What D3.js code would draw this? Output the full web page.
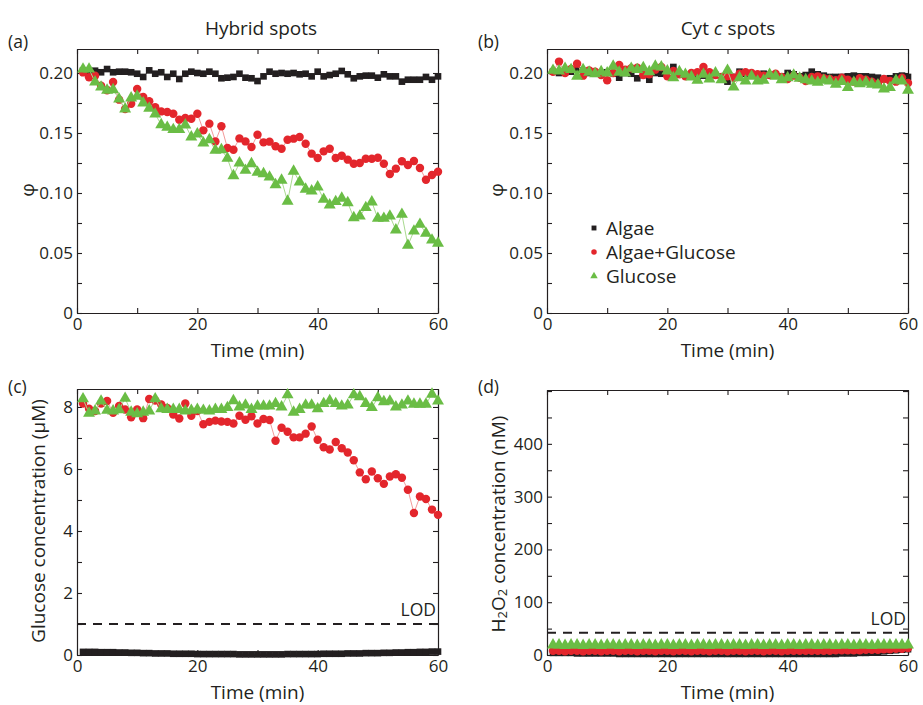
<!DOCTYPE html>
<html>
<head>
<meta charset="utf-8">
<script src="https://cdn.jsdelivr.net/npm/d3@7"></script>
<style>
  body { margin: 0; background: #fff; }
  svg text { font-family: "Open Sans", "Noto Sans", sans-serif; fill: #231f20; }
</style>
</head>
<body>
<svg width="923" height="705"></svg>
<script>
// sampling times (min)
const times = [1,2,3,4,5,6,7,8,9,10,11,12,13,14,15,16,17,18,19,20,
  21,22,23,24,25,26,27,28,29,30,31,32,33,34,35,36,37,38,39,40,
  41,42,43,44,45,46,47,48,49,50,51,52,53,54,55,56,57,58,59,60];

// (a) hybrid spots, phi
const phiHybridAlgae = [0.2019,0.2006,0.2019,0.2006,0.2033,0.2006,0.2011,0.2011,0.2006,0.1994,
  0.1967,0.2022,0.1994,0.2006,0.1967,0.1994,0.1950,0.1994,0.2011,0.2000,
  0.1994,0.2011,0.1994,0.1956,0.1961,0.1967,0.1994,0.1961,0.1956,0.1933,
  0.1972,0.2011,0.1994,0.2000,0.1994,0.2000,0.1989,0.1994,0.1972,0.2011,
  0.1972,0.1983,0.1994,0.2017,0.1989,0.1956,0.1972,0.1978,0.1978,0.1961,
  0.1989,0.1972,0.1972,0.1928,0.1944,0.1944,0.1944,0.1967,0.1944,0.1972];
const phiHybridMix = [0.2005,0.1964,0.1978,0.1894,0.1856,0.1925,0.1778,0.1700,0.1744,0.1867,
  0.1800,0.1764,0.1714,0.1680,0.1675,0.1661,0.1611,0.1625,0.1619,0.1661,
  0.1522,0.1578,0.1430,0.1556,0.1375,0.1361,0.1455,0.1430,0.1383,0.1486,
  0.1422,0.1428,0.1389,0.1369,0.1444,0.1453,0.1467,0.1411,0.1328,0.1292,
  0.1347,0.1369,0.1292,0.1311,0.1278,0.1244,0.1250,0.1286,0.1286,0.1294,
  0.1244,0.1158,0.1203,0.1264,0.1233,0.1267,0.1208,0.1111,0.1150,0.1178];
const phiHybridGlucose = [0.2033,0.2033,0.1925,0.1883,0.1856,0.1861,0.1783,0.1700,0.1792,0.1806,
  0.1750,0.1706,0.1658,0.1569,0.1547,0.1528,0.1528,0.1567,0.1467,0.1492,
  0.1417,0.1444,0.1356,0.1361,0.1289,0.1144,0.1250,0.1189,0.1244,0.1172,
  0.1161,0.1133,0.1069,0.1106,0.0931,0.1181,0.1092,0.1031,0.1017,0.1050,
  0.0947,0.0900,0.0928,0.0956,0.0919,0.0794,0.0808,0.0878,0.0925,0.0789,
  0.0789,0.0808,0.0692,0.0822,0.0564,0.0683,0.0739,0.0664,0.0608,0.0581];

// (b) cyt c spots, phi
const phiCytAlgae = [0.2011,0.2000,0.2006,0.2011,0.2022,0.2017,0.2000,0.1994,0.2000,0.2006,
  0.1994,0.1961,0.2000,0.1994,0.1956,0.1983,0.1944,0.2000,0.1994,0.2006,
  0.2050,0.1994,0.1983,0.1978,0.1961,0.1978,0.1994,0.1983,0.1972,0.1928,
  0.1967,0.2011,0.1994,0.1989,0.1983,0.1994,0.1983,0.1983,0.1972,0.2000,
  0.1989,0.1972,0.1983,0.2011,0.1989,0.1978,0.1967,0.1967,0.1967,0.1972,
  0.1978,0.1972,0.1972,0.1967,0.1961,0.1950,0.1956,0.1972,0.1978,0.1967];
const phiCytMix = [0.2011,0.2095,0.2000,0.2033,0.2078,0.1978,0.2022,0.2011,0.1983,0.1939,
  0.2000,0.2067,0.2028,0.2039,0.2044,0.1983,0.1989,0.2028,0.2050,0.1972,
  0.2017,0.1989,0.1972,0.2000,0.2006,0.2050,0.2006,0.1983,0.1967,0.1972,
  0.1961,0.1994,0.2006,0.2000,0.1989,0.1978,0.1983,0.1994,0.1967,0.1950,
  0.1978,0.1961,0.1933,0.1967,0.1972,0.1956,0.1950,0.1939,0.1961,0.1944,
  0.1928,0.1956,0.1944,0.1928,0.1911,0.1950,0.1933,0.1928,0.1961,0.1917];
const phiCytGlucose = [0.2022,0.2017,0.2039,0.2028,0.1972,0.2028,0.2006,0.1994,0.2011,0.2000,
  0.2056,0.2006,0.2000,0.2039,0.2028,0.2044,0.2011,0.2056,0.2050,0.2017,
  0.1961,0.2011,0.1989,0.1967,0.1939,0.1989,0.1950,0.2000,0.1944,0.2022,
  0.1883,0.1961,0.1933,0.1972,0.1933,0.1939,0.1989,0.1972,0.1944,0.1961,
  0.1983,0.1956,0.1944,0.1933,0.1922,0.1939,0.1933,0.1906,0.1928,0.1878,
  0.1922,0.1911,0.1922,0.1906,0.1900,0.1867,0.1878,0.1939,0.1933,0.1856];

// (c) glucose concentration (uM)
const glcAlgae = [0.10,0.10,0.10,0.09,0.09,0.09,0.08,0.08,0.07,0.07,
  0.06,0.06,0.05,0.05,0.05,0.04,0.04,0.04,0.04,0.03,
  0.03,0.03,0.03,0.03,0.03,0.03,0.02,0.02,0.02,0.02,
  0.02,0.02,0.02,0.02,0.03,0.03,0.03,0.03,0.03,0.03,
  0.04,0.04,0.04,0.04,0.05,0.05,0.05,0.06,0.06,0.06,
  0.07,0.07,0.08,0.08,0.09,0.09,0.10,0.10,0.11,0.11];
const glcMix = [8.11,7.94,7.87,8.11,8.19,7.81,8.03,7.92,7.67,7.92,
  7.64,8.26,8.21,8.08,7.97,7.76,7.63,8.11,7.72,7.87,
  7.44,7.52,7.56,7.53,7.52,7.47,7.72,7.59,7.70,7.47,
  7.61,7.58,6.91,7.33,7.20,7.02,7.02,7.14,7.37,6.94,
  6.70,6.63,6.87,6.67,6.53,6.28,5.89,5.67,5.92,5.70,
  5.52,5.76,5.83,5.72,5.33,4.58,5.11,5.03,4.69,4.52];
const glcGlucose = [8.26,7.80,7.87,8.19,7.89,7.87,7.91,8.28,7.83,7.78,
  7.83,7.87,8.26,7.94,7.92,7.92,7.92,7.87,7.89,7.92,
  7.89,7.87,7.92,7.92,7.98,8.20,8.00,8.06,7.92,8.03,
  8.03,8.03,8.11,8.00,8.39,7.83,7.92,8.06,8.06,7.94,
  8.11,8.20,8.11,8.03,8.06,8.39,8.33,8.11,7.98,8.30,
  8.17,8.19,8.00,8.06,8.19,8.09,8.09,8.09,8.41,8.19];

// (d) H2O2 concentration (nM)
const h2o2Algae = [4,4,4,4,3,3,3,3,3,3,
  3,2,2,2,2,2,2,2,2,2,
  2,2,2,2,2,2,2,2,2,2,
  2,2,2,2,2,2,2,2,2,2,
  2,2,2,2,2,2,2,2,3,3,
  3,4,4,5,6,7,8,9,10,11];
const h2o2Mix = [8,8,7,8,8,7,8,8,7,8,
  8,7,8,8,7,8,8,7,8,8,
  7,8,8,7,8,8,7,8,8,7,
  8,8,7,8,8,7,8,8,7,8,
  8,8,8,8,8,8,8,9,9,9,
  9,9,10,10,10,11,11,12,12,13];
const h2o2Glucose = [19,19,18,19,19,18,19,19,18,19,
  19,18,19,19,18,19,19,18,19,19,
  18,19,19,18,19,19,18,19,19,18,
  19,19,18,19,19,18,19,19,18,19,
  19,18,19,19,18,19,19,18,19,19,
  18,19,19,18,19,19,19,19,19,19];

const seriesNames = ["Algae", "Algae+Glucose", "Glucose"];
const glucoseLOD = 1;
const h2o2LOD = 42;

const colors = ["#231f20", "#e3262c", "#6abd45"];
const lineColors = ["#231f20", "#f29a9a", "#a9d98f"];
const symbols = [d3.symbolSquare, d3.symbolCircle, d3.symbolTriangle];
const symSizes = [44, 56, 62];

const svg = d3.select("svg");
const ink = "#231f20";
const tickFont = "17px";
const labelFont = "19px";

function panel(opt) {
  const x = d3.scaleLinear().domain([0, 60]).range([opt.left, opt.right]);
  const y = d3.scaleLinear().domain(opt.yDomain).range([opt.bottom, opt.top]);
  const g = svg.append("g");

  const xTicks = [0, 10, 20, 30, 40, 50, 60];
  const fx = d => (d % 20 === 0 ? d : "");

  // bottom / top
  g.append("g").attr("transform", `translate(0,${opt.bottom})`)
    .call(d3.axisBottom(x).tickValues(xTicks).tickFormat(fx).tickSizeInner(-5).tickSizeOuter(0).tickPadding(5));
  g.append("g").attr("transform", `translate(0,${opt.top})`)
    .call(d3.axisTop(x).tickValues(xTicks).tickFormat("").tickSizeInner(-5).tickSizeOuter(0));
  // left / right
  g.append("g").attr("transform", `translate(${opt.left},0)`)
    .call(d3.axisLeft(y).tickValues(opt.yTicks).tickFormat(opt.yFormat).tickSizeInner(-5).tickSizeOuter(0).tickPadding(4));
  g.append("g").attr("transform", `translate(${opt.right},0)`)
    .call(d3.axisRight(y).tickValues(opt.yTicks).tickFormat("").tickSizeInner(-5).tickSizeOuter(0));

  g.selectAll(".domain").attr("stroke", ink).attr("stroke-width", 1.2);
  g.selectAll(".tick line").attr("stroke", ink).attr("stroke-width", 1.1);
  g.selectAll(".tick text").style("font-size", tickFont).attr("fill", ink);

  if (opt.lod !== undefined) {
    g.append("line")
      .attr("x1", opt.left).attr("x2", opt.right)
      .attr("y1", y(opt.lod)).attr("y2", y(opt.lod))
      .attr("stroke", ink).attr("stroke-width", 2)
      .attr("stroke-dasharray", "9,7");
    g.append("text")
      .attr("x", opt.right - 2).attr("y", y(opt.lod) - 8)
      .attr("text-anchor", "end")
      .style("font-size", "17.5px")
      .text("LOD");
  }

  const line = d3.line().x((d, i) => x(times[i])).y(d => y(d));
  opt.series.forEach((vals, k) => {
    g.append("path").datum(vals)
      .attr("fill", "none")
      .attr("stroke", lineColors[k])
      .attr("stroke-width", k === 0 ? 0.8 : 1)
      .attr("d", line);
    g.append("g").selectAll("path")
      .data(vals)
      .enter().append("path")
      .attr("d", d3.symbol().type(symbols[k]).size(symSizes[k]))
      .attr("transform", (d, i) => `translate(${x(times[i])},${y(d)})`)
      .attr("fill", colors[k]);
  });

  // x label
  g.append("text")
    .attr("x", (opt.left + opt.right) / 2)
    .attr("y", opt.bottom + 44)
    .attr("text-anchor", "middle")
    .style("font-size", labelFont)
    .text("Time (min)");

  // panel tag
  g.append("text")
    .attr("x", opt.left - 69).attr("y", opt.tagY)
    .style("font-size", "17.5px")
    .text(opt.tag);

  return { x, y, g };
}

const phiTicks = [0, 0.025, 0.05, 0.075, 0.1, 0.125, 0.15, 0.175, 0.2];
const phiFormat = d => (d === 0 ? "0" : (Math.round(d * 1000) % 50 === 0 ? d3.format(".2f")(d) : ""));

panel({ tag: "(a)", tagY: 48, left: 77, right: 438, top: 49, bottom: 313,
  yDomain: [0, 0.22], yTicks: phiTicks, yFormat: phiFormat,
  series: [phiHybridAlgae, phiHybridMix, phiHybridGlucose] });

panel({ tag: "(b)", tagY: 48, left: 547, right: 908, top: 49, bottom: 313,
  yDomain: [0, 0.22], yTicks: phiTicks, yFormat: phiFormat,
  series: [phiCytAlgae, phiCytMix, phiCytGlucose] });

panel({ tag: "(c)", tagY: 393, left: 77, right: 438, top: 389, bottom: 655,
  yDomain: [0, 8.58], yTicks: [0, 1, 2, 3, 4, 5, 6, 7, 8],
  yFormat: d => (d % 2 === 0 ? d : ""), lod: glucoseLOD,
  series: [glcAlgae, glcMix, glcGlucose] });

panel({ tag: "(d)", tagY: 393, left: 547, right: 908, top: 390, bottom: 655,
  yDomain: [0, 502], yTicks: [0, 50, 100, 150, 200, 250, 300, 350, 400, 450, 500],
  yFormat: d => (d % 100 === 0 && d <= 400 ? d : ""), lod: h2o2LOD,
  series: [h2o2Algae, h2o2Mix, h2o2Glucose] });

// titles
svg.append("text").attr("x", 261).attr("y", 35).attr("text-anchor", "middle")
  .style("font-size", labelFont).text("Hybrid spots");
const tb = svg.append("text").attr("x", 728).attr("y", 35).attr("text-anchor", "middle")
  .style("font-size", labelFont);
tb.append("tspan").text("Cyt ");
tb.append("tspan").style("font-style", "italic").text("c");
tb.append("tspan").text(" spots");

// y labels
function yLabel(xp, yp) {
  return svg.append("text")
    .attr("transform", `translate(${xp},${yp}) rotate(-90)`)
    .attr("text-anchor", "middle")
    .style("font-size", labelFont);
}
yLabel(34, 190).text("φ");
yLabel(503, 190).text("φ");
yLabel(45, 521).text("Glucose concentration (μM)");
const hl = yLabel(505, 524);
hl.append("tspan").text("H");
hl.append("tspan").style("font-size", "13px").attr("dy", 2).text("2");
hl.append("tspan").attr("dy", -2).text("O");
hl.append("tspan").style("font-size", "13px").attr("dy", 2).text("2");
hl.append("tspan").attr("dy", -2).text(" concentration (nM)");

// legend in panel (b)
const legend = svg.append("g").attr("transform", "translate(594,228)");
seriesNames.forEach((name, k) => {
  const row = legend.append("g").attr("transform", `translate(0,${k * 24})`);
  row.append("path")
    .attr("d", d3.symbol().type(symbols[k]).size(24))
    .attr("fill", colors[k]);
  row.append("text").attr("x", 12).attr("y", 7)
    .style("font-size", labelFont).text(name);
});
</script>
</body>
</html>
